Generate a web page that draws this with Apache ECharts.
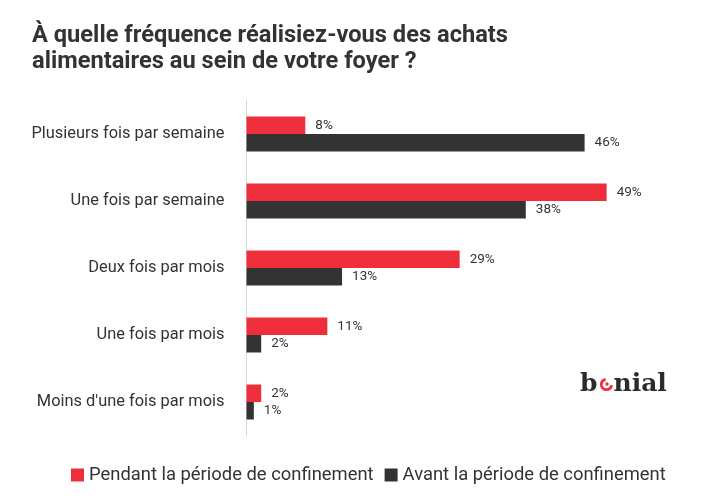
<!DOCTYPE html>
<html>
<head>
<meta charset="utf-8">
<script src="https://cdn.jsdelivr.net/npm/echarts@6/dist/echarts.min.js"></script>
<style>html,body{margin:0;padding:0;background:#fff}#c{width:704px;height:503px}</style>
</head>
<body>
<div id="c"></div>
<script>
const titleLines = ["À quelle fréquence réalisiez-vous des achats", "alimentaires au sein de votre foyer ?"];
const categories = ["Plusieurs fois par semaine", "Une fois par semaine", "Deux fois par mois", "Une fois par mois", "Moins d'une fois par mois"];
const seriesNames = ["Pendant la période de confinement", "Avant la période de confinement"];
const pendant = [8, 49, 29, 11, 2];
const avant = [46, 38, 13, 2, 1];

const RED = '#ee2e3a', DARK = '#333333', TXT = '#333333';
const FONT = 'Roboto';

function measure(text, font) {
  const c = document.createElement('canvas').getContext('2d');
  c.font = font;
  return c.measureText(text).width;
}
const titleFont = 'bold 23px ' + FONT;
const titleScale = 476 / measure(titleLines[0], titleFont);
const logoFont = 'bold 25px "DejaVu Serif"';

const chart = echarts.init(document.getElementById('c'), null, {renderer: 'canvas'});
chart.setOption({
  backgroundColor: '#fff',
  animation: false,
  grid: {left: 246.5, top: 100.5, width: 367.5, height: 335},
  xAxis: {type: 'value', min: 0, max: 50, show: false},
  yAxis: {
    type: 'category', data: categories, inverse: true,
    axisLine: {show: true, lineStyle: {color: '#d9d9d9', width: 1}},
    axisTick: {show: false},
    axisLabel: {margin: 22, fontSize: 16.4, color: TXT, fontFamily: FONT}
  },
  legend: {
    left: 66, top: 461, icon: 'rect', itemWidth: 13, itemHeight: 13, itemGap: 11,
    textStyle: {fontSize: 18.4, color: TXT, fontFamily: FONT, padding: [0, 0, 0, 0]},
    data: seriesNames
  },
  series: [
    {name: seriesNames[0], type: 'bar', data: pendant, barWidth: 17.5, barGap: '0%',
     itemStyle: {color: RED},
     label: {show: true, position: 'right', distance: 10, formatter: '{c}%', fontSize: 13.5, color: TXT, fontFamily: FONT}},
    {name: seriesNames[1], type: 'bar', data: avant, barWidth: 17.5, barGap: '0%',
     itemStyle: {color: DARK},
     label: {show: true, position: 'right', distance: 10, formatter: '{c}%', fontSize: 13.5, color: TXT, fontFamily: FONT}}
  ],
  graphic: [
    {type: 'text', x: 32, y: 36.5, scaleX: titleScale, style: {text: titleLines[0], font: titleFont, fill: TXT, textVerticalAlign: 'middle'}},
    {type: 'text', x: 32, y: 62.5, scaleX: titleScale, style: {text: titleLines[1], font: titleFont, fill: TXT, textVerticalAlign: 'middle'}},
    {type: 'text', x: 580, y: 384, style: {text: 'b', font: logoFont, fill: '#2b2b2b', textVerticalAlign: 'middle'}},
    {type: 'arc', shape: {cx: 606.5, cy: 384.5, r: 5.2, startAngle: 0.15, endAngle: 4.55, clockwise: true},
     style: {stroke: RED, lineWidth: 2.8, fill: null}},
    {type: 'circle', shape: {cx: 607, cy: 384, r: 1.7}, style: {fill: RED}},
    {type: 'text', x: 613.5, y: 384, style: {text: 'nial', font: logoFont, fill: '#2b2b2b', textVerticalAlign: 'middle'}}
  ]
});
</script>
</body>
</html>
